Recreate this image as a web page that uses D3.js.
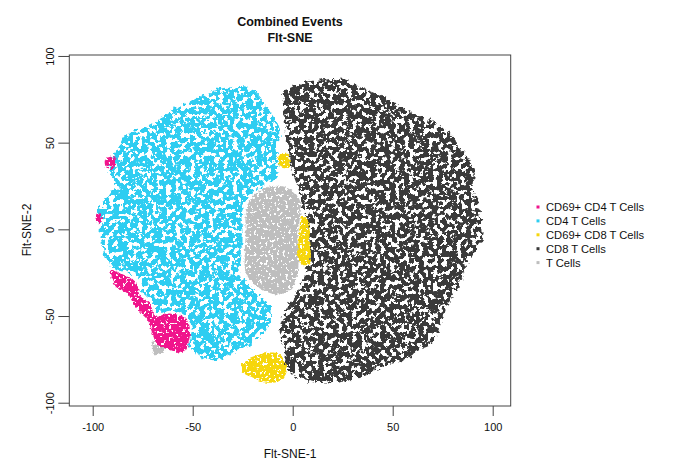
<!DOCTYPE html>
<html>
<head>
<meta charset="utf-8">
<script src="https://cdn.jsdelivr.net/npm/d3@7"></script>
<style>
  body { margin: 0; background: #fff; }
  text { font-family: "Liberation Sans", Arial, sans-serif; fill: #111; }
</style>
</head>
<body>
<svg id="chart" width="680" height="476"></svg>
<script>
// population names and colours (legend order)
const populations = ["CD69+ CD4 T Cells", "CD4 T Cells", "CD69+ CD8 T Cells", "CD8 T Cells", "T Cells"];
const popColors = ["#f0158c", "#2ecdf1", "#f6d60c", "#3a3a3a", "#bebebe"];

const xTicks = [-100, -50, 0, 50, 100];
const yTicks = [-100, -50, 0, 50, 100];

// cluster outlines, in Flt-SNE units [x, y]
const cd8Outline = [[-5, 79], [-1.5, 82], [5, 85], [15, 86], [24.5, 87.5], [32, 83], [42, 78.5], [47, 75.5],
  [55, 70.5], [65, 65], [73.5, 60], [78.5, 55.5], [83.5, 47.5], [88.5, 40], [91, 32.5], [90, 24.5],
  [92.5, 15], [94.5, 3.5], [94.5, -6], [88.5, -17.5], [84.5, -27.5], [82.5, -35], [77, -45], [75, -52.5],
  [70, -65.5], [63.5, -69.5], [55, -75.5], [45, -79.5], [35, -85], [22, -88.5], [12, -88.5], [2, -85],
  [-4, -79.5], [-4, -71.5], [-6.5, -58], [-5, -50.5], [-1.5, -42.5], [2, -37], [5, -29], [8, -19.5],
  [8.5, -9], [7.5, 2.5], [5, 13], [3.5, 21], [0, 32.5], [-1.5, 39], [-3, 51.5], [-4, 63], [-5, 74.5]];

const cd4Outline = [[-30, 82], [-23, 81.5], [-18, 78.5], [-13, 70.5], [-8, 61.5], [-6.5, 53], [-7.5, 46],
  [-6.5, 36], [-8, 30], [-13, 26.5], [-18, 22.5], [-23, 17], [-25.5, 7], [-25, -3.5], [-25.5, -13.5],
  [-26.5, -23.5], [-25.5, -26.5], [-21.5, -32], [-16.5, -38], [-12.5, -42.5], [-10.5, -47.5], [-13, -58],
  [-20, -65.5], [-30, -71.5], [-38, -75.5], [-46.5, -73], [-51.5, -68.5], [-50.5, -57], [-53.5, -50],
  [-60.5, -47], [-68, -48], [-70.5, -41], [-75, -36], [-76.5, -30], [-83, -24.5], [-91.5, -21.5],
  [-94, -16.5], [-95, -10], [-96.5, -2], [-96.5, 2.5], [-98, 9.5], [-95, 15], [-91.5, 21], [-89, 26.5],
  [-91.5, 32.5], [-91.5, 40], [-88, 46], [-85, 52.5], [-81.5, 56], [-73, 59], [-65, 65], [-58, 70.5],
  [-51.5, 73.5], [-43, 78.5], [-36.5, 81]];

const tCellsOutline = [[-10, 25], [-3, 24], [1.5, 20.5], [4, 15], [3.5, 5.5], [2.5, -6], [3, -17.5], [2, -27.5],
  [-0.5, -34], [-6.5, -37.5], [-14, -35.5], [-20, -31], [-23.5, -24.5], [-24, -13.5], [-23.5, -3.5],
  [-23.5, 8], [-22, 15.5], [-17.5, 21.5]];
const tCellsSmall = [[-70.5, -65], [-66.5, -64], [-63, -66.5], [-65, -70.5], [-69, -72.5]];

const cd69cd4Strip = [[-91.5, -23.5], [-84, -26.5], [-78, -31], [-76.5, -38], [-71.5, -42.5], [-69, -49.5],
  [-61.5, -48.5], [-54, -51], [-51.5, -57], [-52.5, -67], [-55, -71], [-61.5, -69.5], [-67.5, -66.5],
  [-70.5, -59], [-72.5, -52.5], [-76.5, -47.5], [-80, -42], [-82.5, -37], [-87.5, -33.5], [-90.5, -28]];
const cd69cd4Dot1 = [[-93, 41], [-89, 42], [-88.5, 38], [-90, 35], [-93, 35.5], [-94, 38.5]];
const cd69cd4Dot2 = [[-97.5, 9.5], [-96, 8.5], [-95.5, 4.5], [-97, 3], [-98.5, 5.5]];

const cd69cd8Notch = [[-6.5, 43], [-3, 44], [-1.5, 40], [-2.5, 35.5], [-6, 36], [-7.5, 39.5]];
const cd69cd8Strip = [[4.5, 8], [8, 4], [8.5, -4], [9, -12], [8.5, -19.5], [4.5, -20.5], [2.5, -15], [3, -6], [3.5, 1]];
const cd69cd8Bottom = [[-23.5, -75.5], [-17.5, -72.5], [-11.5, -71], [-6.5, -72], [-4, -76.5], [-3, -82],
  [-6, -87], [-13, -88.5], [-20, -85.5], [-25, -82.5], [-25.5, -78.5]];

const svg = d3.select("#chart");
const box = { left: 69.3, right: 510.7, top: 55, bottom: 406 };

const x = d3.scaleLinear().domain([-111.7, 109]).range([box.left, box.right]);
const y = d3.scaleLinear().domain([-101.9, 100.55]).range([box.bottom, box.top]);

// speckle filters give the dotted, worm-like look of the event clouds
const defs = svg.append("defs");
function addSpeckle(id, freq, octaves, seed, cut, disp) {
  const f = defs.append("filter").attr("id", id)
    .attr("x", "-5%").attr("y", "-5%").attr("width", "110%").attr("height", "110%")
    .attr("color-interpolation-filters", "sRGB");
  f.append("feTurbulence").attr("type", "fractalNoise").attr("baseFrequency", freq)
    .attr("numOctaves", octaves).attr("seed", seed).attr("result", "noise");
  const k = 24;
  f.append("feColorMatrix").attr("in", "noise").attr("type", "matrix")
    .attr("values", `0 0 0 0 0  0 0 0 0 0  0 0 0 0 0  ${k} 0 0 0 ${-k * cut}`)
    .attr("result", "mask");
  f.append("feDisplacementMap").attr("in", "SourceGraphic").attr("in2", "noise")
    .attr("scale", disp).attr("xChannelSelector", "G").attr("yChannelSelector", "B")
    .attr("result", "rough");
  f.append("feComposite").attr("in", "rough").attr("in2", "mask").attr("operator", "in");
}
addSpeckle("speckleLarge", 0.21, 3, 4, 0.425, 7);
addSpeckle("speckleFine", 0.35, 2, 9, 0.34, 4);

const outline = d3.line()
  .x(d => x(d[0]))
  .y(d => y(d[1]))
  .curve(d3.curveCatmullRomClosed);

const clusters = [
  { pts: cd8Outline, pop: 3, filter: "speckleLarge" },
  { pts: cd4Outline, pop: 1, filter: "speckleLarge" },
  { pts: tCellsOutline, pop: 4, filter: "speckleFine" },
  { pts: tCellsSmall, pop: 4, filter: "speckleFine" },
  { pts: cd69cd4Strip, pop: 0, filter: "speckleFine" },
  { pts: cd69cd4Dot1, pop: 0, filter: "speckleFine" },
  { pts: cd69cd4Dot2, pop: 0, filter: "speckleFine" },
  { pts: cd69cd8Notch, pop: 2, filter: "speckleFine" },
  { pts: cd69cd8Strip, pop: 2, filter: "speckleFine" },
  { pts: cd69cd8Bottom, pop: 2, filter: "speckleFine" }
];

svg.append("g")
  .selectAll("path")
  .data(clusters)
  .join("path")
    .attr("d", d => outline(d.pts))
    .attr("fill", d => popColors[d.pop])
    .attr("filter", d => `url(#${d.filter})`);

// plot frame
svg.append("rect")
  .attr("x", box.left).attr("y", box.top)
  .attr("width", box.right - box.left).attr("height", box.bottom - box.top)
  .attr("fill", "none").attr("stroke", "#444").attr("stroke-width", 1);

// x axis (plain hyphen minus, as in the original)
const xAxis = svg.append("g")
  .attr("transform", `translate(0,${box.bottom})`)
  .call(d3.axisBottom(x).tickValues(xTicks).tickSize(10).tickPadding(7).tickFormat(d => String(d)));
xAxis.select(".domain").remove();
xAxis.selectAll("line").attr("stroke", "#444");
xAxis.selectAll("text").style("font-size", "11px").style("font-family", "Liberation Sans, Arial, sans-serif").attr("fill", "#111");

// y axis, labels turned like R does
const yAxis = svg.append("g")
  .attr("transform", `translate(${box.left},0)`)
  .call(d3.axisLeft(y).tickValues(yTicks).tickSize(11).tickFormat(d => String(d)));
yAxis.select(".domain").remove();
yAxis.selectAll("line").attr("stroke", "#444");
yAxis.selectAll("text")
  .attr("x", 0).attr("dy", 0)
  .attr("text-anchor", "middle")
  .attr("transform", "translate(-15,0) rotate(-90)")
  .style("font-size", "11px").style("font-family", "Liberation Sans, Arial, sans-serif").attr("fill", "#111");

// titles
svg.append("text").attr("x", 290).attr("y", 26).attr("text-anchor", "middle")
  .style("font-size", "12.5px").style("font-weight", "bold").text("Combined Events");
svg.append("text").attr("x", 290).attr("y", 42).attr("text-anchor", "middle")
  .style("font-size", "12.5px").style("font-weight", "bold").text("Flt-SNE");

svg.append("text").attr("x", 290).attr("y", 458).attr("text-anchor", "middle")
  .style("font-size", "12px").text("Flt-SNE-1");
svg.append("text").attr("transform", "translate(31,230) rotate(-90)").attr("text-anchor", "middle")
  .style("font-size", "12px").text("Flt-SNE-2");

// legend
const legend = svg.append("g").attr("transform", "translate(538,207)");
const rows = legend.selectAll("g")
  .data(populations)
  .join("g")
    .attr("transform", (d, i) => `translate(0,${i * 13.9})`);
rows.append("rect")
  .attr("x", -1.5).attr("y", -1.5).attr("width", 3).attr("height", 3)
  .attr("fill", (d, i) => popColors[i]);
rows.append("text")
  .attr("x", 8).attr("dy", "0.35em")
  .style("font-size", "11.2px")
  .text(d => d);
</script>
</body>
</html>
